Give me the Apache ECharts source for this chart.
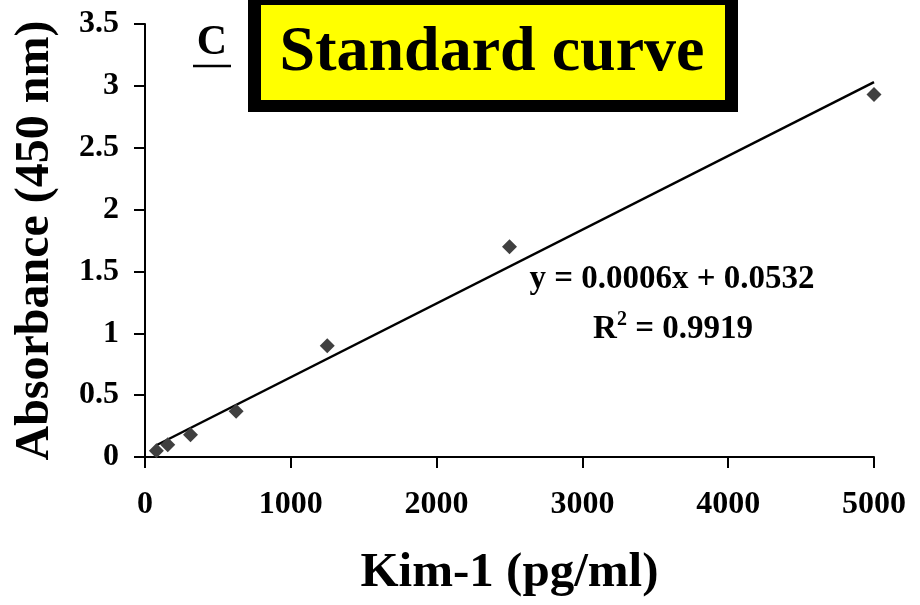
<!DOCTYPE html>
<html>
<head>
<meta charset="utf-8">
<script src="https://cdn.jsdelivr.net/npm/echarts@6/dist/echarts.min.js"></script>
<style>html,body{margin:0;padding:0;background:#fff;}#c{width:920px;height:605px;}</style>
</head>
<body>
<div id="c"></div>
<script>
var concentrations = [78, 156, 312, 625, 1250, 2500, 5000];
var absorbance = [0.05, 0.10, 0.18, 0.37, 0.90, 1.70, 2.93];
var trendX = [78, 5000];
var trendY = [0.095, 3.03];
var xTicks = [0, 1000, 2000, 3000, 4000, 5000];
var yTicks = [0, 0.5, 1, 1.5, 2, 2.5, 3, 3.5];
var titleText = 'Standard curve';
var panelLabel = 'C';
var equationText = 'y = 0.0006x + 0.0532';
var r2Value = '0.9919';

var FONT = '"Liberation Serif", "Times New Roman", serif';
var chart = echarts.init(document.getElementById('c'));
var points = concentrations.map(function (x, i) { return [x, absorbance[i]]; });
var trend = trendX.map(function (x, i) { return [x, trendY[i]]; });

chart.setOption({
  animation: false,
  backgroundColor: '#ffffff',
  grid: { left: 145, right: 46, top: 24, bottom: 148, containLabel: false, outerBoundsMode: 'none' },
  xAxis: {
    type: 'value', min: xTicks[0], max: xTicks[xTicks.length - 1], interval: 1000,
    name: 'Kim-1 (pg/ml)', nameLocation: 'middle', nameGap: 92,
    nameTextStyle: { fontFamily: FONT, fontWeight: 'bold', fontSize: 49, color: '#000' },
    axisLine: { show: true, onZero: false, lineStyle: { color: '#000', width: 2 } },
    axisTick: { show: true, length: 11, lineStyle: { color: '#000', width: 2 } },
    axisLabel: { fontFamily: FONT, fontWeight: 'bold', fontSize: 32, color: '#000', margin: 32,
      formatter: function (v) { return String(v); } },
    splitLine: { show: false }
  },
  yAxis: {
    type: 'value', min: yTicks[0], max: yTicks[yTicks.length - 1], interval: 0.5,
    name: 'Absorbance (450 nm)', nameLocation: 'middle', nameGap: 85,
    nameTextStyle: { fontFamily: FONT, fontWeight: 'bold', fontSize: 48, color: '#000' },
    axisLine: { show: true, lineStyle: { color: '#000', width: 2 } },
    axisTick: { show: true, length: 11, lineStyle: { color: '#000', width: 2 } },
    axisLabel: { fontFamily: FONT, fontWeight: 'bold', fontSize: 32, color: '#000', margin: 26,
      formatter: function (v) { return String(v); } },
    splitLine: { show: false }
  },
  series: [
    {
      type: 'line', data: trend, symbol: 'none', silent: true,
      lineStyle: { color: '#000', width: 2.5 }, z: 2
    },
    {
      type: 'scatter', data: points, symbol: 'diamond', symbolSize: 15,
      itemStyle: { color: '#404040', opacity: 1 }, z: 3
    }
  ],
  graphic: [
    { type: 'rect', shape: { x: 248, y: 0, width: 490, height: 112 }, style: { fill: '#000' }, z: 10 },
    { type: 'rect', shape: { x: 261, y: 5, width: 464, height: 95 }, style: { fill: '#ffff00' }, z: 11 },
    { type: 'text', x: 492, y: 53, z: 12,
      style: { text: titleText, fontFamily: FONT, fontWeight: 'bold', fontSize: 64, fill: '#000', align: 'center', verticalAlign: 'middle' } },
    { type: 'text', x: 212, y: 43, z: 12,
      style: { text: panelLabel, fontFamily: FONT, fontWeight: 'bold', fontSize: 42, fill: '#000', align: 'center', verticalAlign: 'middle' } },
    { type: 'line', z: 12, shape: { x1: 193, y1: 66, x2: 231, y2: 66 }, style: { stroke: '#000', lineWidth: 2.5 } },
    { type: 'text', x: 672, y: 279, z: 12,
      style: { text: equationText, fontFamily: FONT, fontWeight: 'bold', fontSize: 33, fill: '#000', align: 'center', verticalAlign: 'middle' } },
    { type: 'text', x: 673, y: 328, z: 12,
      style: {
        text: '{a|R}{s|2}{a| = ' + r2Value + '}',
        align: 'center', verticalAlign: 'middle',
        rich: {
          a: { fontFamily: FONT, fontWeight: 'bold', fontSize: 33, fill: '#000', color: '#000', verticalAlign: 'bottom', lineHeight: 36 },
          s: { fontFamily: FONT, fontWeight: 'bold', fontSize: 20, fill: '#000', color: '#000', verticalAlign: 'top', lineHeight: 36, padding: [0, 0, 14, 0] }
        }
      } }
  ]
});
</script>
</body>
</html>
